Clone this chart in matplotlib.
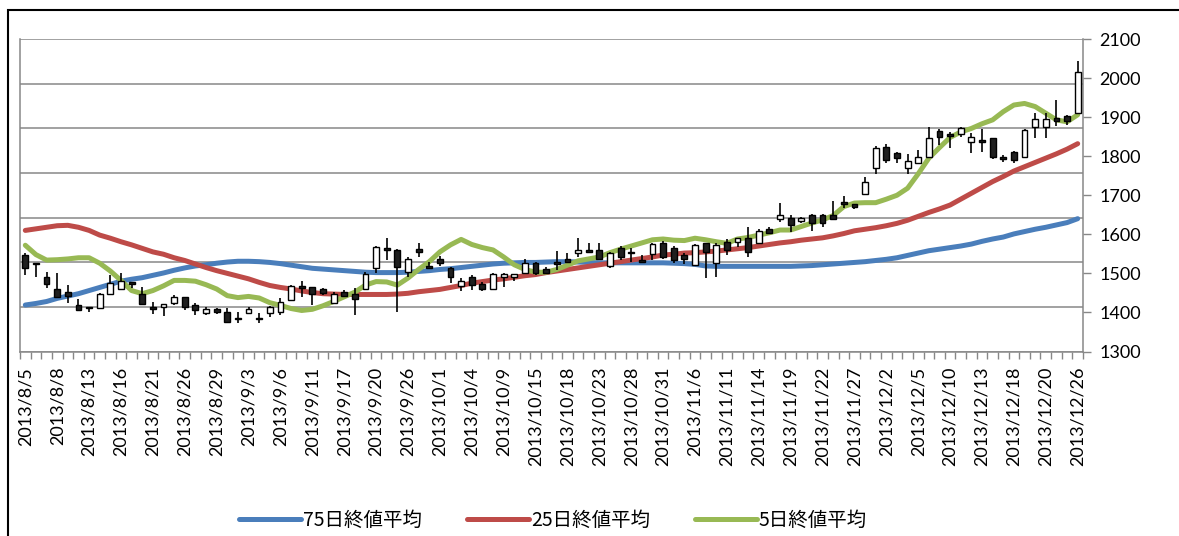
import matplotlib
matplotlib.use("Agg")
import matplotlib.pyplot as plt
from matplotlib.patches import Rectangle
from matplotlib.lines import Line2D

# ---- data (one entry per trading day) ----
tick_labels = [
    "2013/8/5", "2013/8/8", "2013/8/13", "2013/8/16", "2013/8/21", "2013/8/26",
    "2013/8/29", "2013/9/3", "2013/9/6", "2013/9/11", "2013/9/17", "2013/9/20",
    "2013/9/26", "2013/10/1", "2013/10/4", "2013/10/9", "2013/10/15", "2013/10/18",
    "2013/10/23", "2013/10/28", "2013/10/31", "2013/11/6", "2013/11/11", "2013/11/14",
    "2013/11/19", "2013/11/22", "2013/11/27", "2013/12/2", "2013/12/5", "2013/12/10",
    "2013/12/13", "2013/12/18", "2013/12/20", "2013/12/26",
]

opens = [
    1547, 1527, 1490, 1460, 1453, 1419, 1415, 1411, 1447, 1460,
    1477, 1447, 1415, 1415, 1423, 1439, 1419, 1398, 1409, 1402,
    1387, 1398, 1387, 1399, 1402, 1432, 1468, 1464, 1459, 1423,
    1453, 1446, 1459, 1514, 1564, 1560, 1504, 1562, 1519, 1536,
    1514, 1468, 1490, 1473, 1459, 1490, 1490, 1502, 1527, 1511,
    1528, 1536, 1551, 1561, 1561, 1519, 1564, 1555, 1534, 1549,
    1579, 1564, 1547, 1521, 1577, 1527, 1581, 1581, 1590, 1577,
    1613, 1638, 1641, 1633, 1649, 1649, 1649, 1684, 1678, 1702,
    1769, 1824, 1809, 1769, 1782, 1799, 1865, 1857, 1856, 1837,
    1841, 1846, 1799, 1811, 1799, 1874, 1874, 1897, 1903, 1911,
]
highs = [
    1552, 1527, 1504, 1501, 1470, 1434, 1415, 1450, 1496, 1501,
    1477, 1466, 1427, 1421, 1445, 1440, 1425, 1415, 1412, 1411,
    1402, 1415, 1398, 1417, 1436, 1471, 1480, 1464, 1462, 1453,
    1457, 1462, 1503, 1570, 1590, 1562, 1542, 1577, 1530, 1545,
    1517, 1487, 1496, 1478, 1501, 1502, 1498, 1538, 1530, 1517,
    1558, 1551, 1590, 1577, 1578, 1556, 1569, 1564, 1547, 1577,
    1582, 1570, 1553, 1575, 1579, 1577, 1587, 1590, 1618, 1613,
    1618, 1681, 1649, 1645, 1652, 1651, 1686, 1698, 1678, 1746,
    1826, 1831, 1811, 1806, 1817, 1875, 1869, 1863, 1874, 1859,
    1869, 1846, 1803, 1814, 1869, 1911, 1911, 1944, 1905, 2044,
]
lows = [
    1496, 1492, 1462, 1437, 1424, 1404, 1402, 1409, 1447, 1460,
    1462, 1419, 1395, 1391, 1419, 1406, 1393, 1393, 1395, 1373,
    1372, 1396, 1372, 1389, 1393, 1431, 1440, 1419, 1445, 1421,
    1439, 1393, 1458, 1502, 1534, 1402, 1492, 1543, 1510, 1519,
    1476, 1455, 1458, 1455, 1458, 1464, 1481, 1500, 1496, 1498,
    1509, 1527, 1541, 1551, 1536, 1515, 1534, 1530, 1527, 1534,
    1538, 1526, 1524, 1518, 1487, 1490, 1547, 1567, 1541, 1575,
    1600, 1632, 1607, 1630, 1608, 1620, 1637, 1667, 1665, 1700,
    1754, 1783, 1782, 1754, 1780, 1797, 1829, 1820, 1850, 1807,
    1811, 1794, 1786, 1782, 1797, 1846, 1846, 1877, 1880, 1908,
]
closes = [
    1514, 1523, 1473, 1439, 1443, 1406, 1411, 1447, 1476, 1481,
    1473, 1421, 1410, 1421, 1440, 1415, 1406, 1409, 1402, 1376,
    1383, 1410, 1383, 1415, 1428, 1468, 1462, 1447, 1450, 1447,
    1442, 1435, 1498, 1568, 1560, 1517, 1536, 1556, 1513, 1526,
    1490, 1480, 1470, 1459, 1498, 1498, 1498, 1526, 1502, 1502,
    1525, 1530, 1561, 1555, 1538, 1553, 1541, 1551, 1529, 1574,
    1543, 1534, 1536, 1573, 1556, 1573, 1560, 1590, 1556, 1608,
    1603, 1649, 1624, 1643, 1628, 1628, 1638, 1678, 1671, 1735,
    1820, 1790, 1795, 1788, 1799, 1846, 1850, 1852, 1871, 1850,
    1837, 1799, 1792, 1790, 1867, 1894, 1894, 1891, 1891, 2016,
]

ma75 = [
    1419, 1423, 1428, 1436, 1442, 1448, 1456, 1464, 1472, 1480,
    1485, 1489, 1495, 1501, 1508, 1514, 1519, 1522, 1526, 1529,
    1531, 1531, 1530, 1528, 1525, 1521, 1517, 1513, 1511, 1509,
    1507, 1505, 1503, 1502, 1502, 1502, 1503, 1505, 1507, 1510,
    1512, 1515, 1518, 1521, 1524, 1526, 1527, 1528, 1528, 1529,
    1530, 1530, 1529, 1528, 1527, 1527, 1527, 1527, 1527, 1527,
    1527, 1526, 1525, 1523, 1519, 1518, 1518, 1518, 1518, 1518,
    1518, 1518, 1518, 1519, 1520, 1522, 1524, 1526, 1528, 1530,
    1533, 1536, 1540, 1546, 1552, 1558, 1562, 1566, 1570, 1575,
    1582, 1588, 1593, 1601, 1607, 1613, 1618, 1624, 1630, 1640,
]
ma25 = [
    1610, 1614, 1618, 1622, 1623, 1618, 1610, 1598, 1590, 1581,
    1573, 1564, 1555, 1549, 1540, 1533, 1524, 1515, 1507, 1500,
    1493, 1486, 1477, 1469, 1464, 1460, 1455, 1451, 1448, 1447,
    1446, 1446, 1446, 1446, 1446, 1447, 1449, 1453, 1456, 1459,
    1464, 1469, 1475, 1479, 1483, 1486, 1490, 1494, 1497, 1502,
    1506, 1510, 1514, 1518, 1522, 1526, 1530, 1534, 1538, 1542,
    1547, 1549, 1552, 1553, 1555, 1557, 1560, 1563, 1566, 1570,
    1574, 1578, 1581, 1585, 1588, 1591, 1596, 1602, 1609, 1613,
    1617, 1622, 1628, 1636, 1646, 1656, 1665, 1675, 1690, 1705,
    1720, 1735, 1748, 1762, 1773, 1784, 1795, 1806, 1818, 1832,
]
ma5 = [
    1572, 1548, 1534, 1535, 1537, 1540, 1540, 1526, 1506, 1482,
    1456, 1448, 1456, 1468, 1482, 1482, 1480, 1471, 1460, 1443,
    1438, 1441, 1437, 1425, 1418, 1410, 1405, 1408, 1417, 1428,
    1440, 1452, 1470, 1479, 1478, 1470, 1488, 1510, 1530, 1555,
    1573, 1587, 1574, 1566, 1560, 1542, 1522, 1510, 1503, 1503,
    1510, 1521, 1532, 1537, 1542, 1553, 1562, 1570, 1578, 1586,
    1588, 1585, 1584, 1590, 1586, 1581, 1577, 1588, 1592, 1598,
    1604, 1611, 1611, 1620, 1629, 1637, 1648, 1671, 1680, 1681,
    1681, 1690, 1700, 1718, 1755, 1795, 1822, 1848, 1862, 1871,
    1883, 1893, 1914, 1931, 1935, 1927, 1910, 1893, 1888, 1906,
]

ma_names = ["75日終値平均", "25日終値平均", "5日終値平均"]
ma_colors = ["#4A7EBB", "#BE4B48", "#98B954"]

plt.rcParams["font.family"] = ["Lato", "Noto Sans CJK JP", "DejaVu Sans"]

W, H = 1179, 536
fig = plt.figure(figsize=(W / 100, H / 100), dpi=100)
rect = [20 / W, 1 - 351.5 / H, 1063 / W, 312.5 / H]

# hidden primary axis: only its gridlines are visible (7 equal bands)
gax = fig.add_axes(rect)
gax.set_xlim(0, 1)
gax.set_ylim(0, 7)
gax.set_yticks(range(8))
gax.set_xticks([])
gax.yaxis.grid(True, color="#878787", lw=1.1)
gax.tick_params(left=False, labelleft=False)
for s in gax.spines.values():
    s.set_visible(False)

ax = fig.add_axes(rect)
ax.patch.set_alpha(0)
n = len(closes)
x = list(range(n))

for vals, name, col in zip([ma75, ma25, ma5], ma_names, ma_colors):
    ax.plot(x, vals, color=col, lw=3.6, solid_capstyle="round", label=name, zorder=2)

# candlesticks
ax.vlines(x, lows, highs, color="black", lw=1.2, zorder=4)
body_bottom = [min(o, c) for o, c in zip(opens, closes)]
body_height = [max(abs(c - o), 2) for o, c in zip(opens, closes)]
body_color = ["white" if c >= o else "#1f1f1f" for o, c in zip(opens, closes)]
ax.bar(x, body_height, bottom=body_bottom, width=0.55, color=body_color,
       edgecolor="black", linewidth=1.0, zorder=5)

ax.set_xlim(-0.5, n - 0.5)
ax.set_ylim(1300, 2100)
ax.set_yticks(range(1300, 2101, 100))
ax.yaxis.tick_right()
ax.tick_params(axis="y", direction="out", length=6, width=1, color="#878787",
               labelsize=13, pad=6, left=False)

ax.set_xticks(range(0, n, 3))
ax.set_xticklabels(tick_labels, rotation=90, fontsize=13)
ax.set_xticks([i - 0.5 for i in range(n + 1)], minor=True)
ax.tick_params(axis="x", which="major", length=0, pad=11)
ax.tick_params(axis="x", which="minor", direction="out", length=5, width=1, color="#878787")

for side in ["left", "bottom", "right"]:
    ax.spines[side].set_color("#878787")
    ax.spines[side].set_linewidth(1.1)
ax.spines["top"].set_visible(False)

handles = [Line2D([], [], color=c, lw=3.6, solid_capstyle="round") for c in ma_colors]
fig.legend(handles, ma_names, loc="center", bbox_to_anchor=(553 / W, 1 - 520 / H),
           ncol=3, frameon=False, prop={"family": ["Noto Sans CJK JP"], "size": 14},
           handlelength=3.2, handletextpad=0.1, columnspacing=2.3)

# chart-area outline (only the top and left edges are inside the crop)
fig.patches.append(Rectangle((8 / W, -0.05), 1.1, 1 - 10 / H + 0.05,
                             transform=fig.transFigure, fill=False,
                             edgecolor="black", lw=1.5))

fig.savefig("out.png", dpi=100)
